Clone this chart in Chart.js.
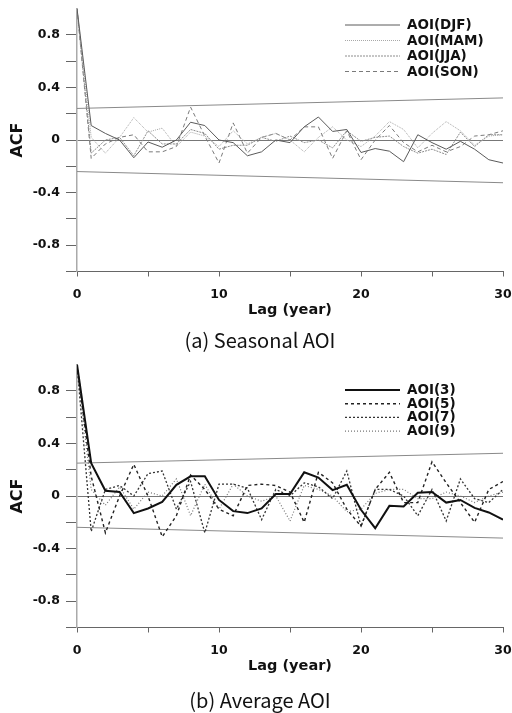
<!DOCTYPE html>
<html>
<head>
<meta charset="utf-8">
<script src="https://cdn.jsdelivr.net/npm/chart.js@4.4.1/dist/chart.umd.min.js"></script>
<style>
  body { margin: 0; background: #fff; width: 512px; height: 713px; overflow: hidden; position: relative; }
  .panel { position: absolute; left: 0; width: 512px; }
  .panel canvas { display: block; }
  .caption { position: absolute; left: 0; width: 520px; text-align: center; font-family: "Noto Sans CJK KR", "Noto Sans", sans-serif; font-size: 20px; line-height: 26px; color: #111; }
</style>
</head>
<body>
<div class="panel" style="top:0"><canvas id="chartA" width="512" height="330"></canvas></div>
<div class="caption" style="top:327px">(a) Seasonal AOI</div>
<div class="panel" style="top:356px"><canvas id="chartB" width="512" height="330"></canvas></div>
<div class="caption" style="top:687px">(b) Average AOI</div>

<script>
var lags = [0, 1, 2, 3, 4, 5, 6, 7, 8, 9, 10, 11, 12, 13, 14, 15, 16, 17, 18, 19, 20, 21, 22, 23, 24, 25, 26, 27, 28, 29, 30];
var xTickLabels = ["0", "10", "20", "30"];
var yTickLabels = ["-0.8", "-0.4", "0", "0.4", "0.8"];
var bandLags = [0, 30];

// seasonal AOI autocorrelation
var acfDJF = [1.0, 0.11, 0.05, 0.0, -0.135, -0.015, -0.055, 0.0, 0.135, 0.11, 0.0, -0.02, -0.12, -0.09, 0.0, -0.02, 0.1, 0.175, 0.065, 0.08, -0.095, -0.065, -0.085, -0.165, 0.04, -0.02, -0.07, -0.01, -0.07, -0.15, -0.175];
var acfMAM = [1.0, 0.02, -0.1, 0.02, 0.17, 0.06, 0.09, -0.05, 0.06, 0.03, -0.05, 0.07, -0.03, 0.02, 0.05, 0.0, -0.09, 0.02, 0.1, 0.0, -0.05, 0.03, 0.14, 0.08, -0.06, 0.05, 0.14, 0.07, -0.04, 0.03, 0.04];
var acfJJA = [1.0, -0.1, 0.0, 0.02, -0.12, 0.07, -0.03, -0.03, 0.08, 0.05, -0.07, -0.04, -0.04, 0.02, -0.01, 0.03, -0.02, 0.0, -0.06, 0.07, -0.01, 0.02, 0.03, -0.05, -0.1, -0.07, -0.11, 0.06, -0.05, 0.04, 0.04];
var acfSON = [1.0, -0.14, -0.03, 0.02, 0.04, -0.09, -0.09, -0.05, 0.25, 0.03, -0.175, 0.13, -0.1, 0.02, 0.05, 0.0, 0.1, 0.1, -0.14, 0.07, -0.15, 0.0, 0.11, -0.02, -0.09, -0.04, -0.09, -0.05, 0.03, 0.04, 0.07];
var upperA = [0.24, 0.32];
var lowerA = [-0.24, -0.325];

// running-mean AOI autocorrelation
var acf3 = [1.0, 0.25, 0.04, 0.03, -0.13, -0.095, -0.045, 0.085, 0.15, 0.15, -0.03, -0.115, -0.13, -0.095, 0.015, 0.015, 0.18, 0.14, 0.045, 0.085, -0.105, -0.245, -0.075, -0.08, 0.025, 0.03, -0.05, -0.03, -0.09, -0.125, -0.18];
var acf5 = [1.0, 0.15, -0.28, 0.0, 0.24, 0.0, -0.31, -0.15, 0.16, 0.05, -0.1, -0.15, 0.08, 0.09, 0.08, 0.03, -0.2, 0.18, 0.1, -0.1, -0.23, 0.05, 0.18, -0.05, -0.05, 0.26, 0.1, -0.05, -0.2, 0.05, 0.11];
var acf7 = [1.0, -0.27, 0.05, 0.08, 0.0, 0.17, 0.19, -0.1, 0.11, -0.28, 0.09, 0.09, 0.06, -0.18, 0.05, 0.0, 0.1, 0.07, -0.02, 0.19, -0.23, 0.05, 0.05, 0.0, -0.15, 0.05, -0.19, 0.13, -0.02, -0.05, 0.05];
var acf9 = [1.0, 0.05, -0.07, 0.07, -0.1, 0.03, 0.0, 0.13, -0.15, 0.09, -0.1, 0.09, 0.0, -0.04, 0.0, -0.19, 0.08, 0.05, 0.0, -0.12, -0.1, 0.02, 0.05, 0.05, -0.02, -0.02, 0.03, 0.0, -0.05, 0.0, 0.03];
var upperB = [0.25, 0.325];
var lowerB = [-0.238, -0.32];

var tickFont = { family: "DejaVu Sans", weight: "bold", size: 12.5 };

function pts(xs, ys) {
  return xs.map(function (x, i) {
    return { x: x, y: ys[i] };
  });
}

function series(label, ys, color, width, dash) {
  return {
    label: label,
    data: pts(lags, ys),
    borderColor: color,
    borderWidth: width,
    borderDash: dash,
    pointRadius: 0,
    tension: 0,
    fill: false,
  };
}

function band(ys) {
  return {
    label: "",
    data: pts(bandLags, ys),
    borderColor: "#8a8a8a",
    borderWidth: 1,
    pointRadius: 0,
    fill: false,
  };
}

// line key in the upper right corner
var lineKey = {
  id: "lineKey",
  afterDraw: function (chart, args, opts) {
    var ctx = chart.ctx;
    ctx.save();
    ctx.font = "bold 13.5px 'DejaVu Sans'";
    ctx.textBaseline = "middle";
    var row = 0;
    chart.data.datasets.forEach(function (ds) {
      if (!ds.label) return;
      var y = opts.top + row * opts.gap;
      ctx.strokeStyle = ds.borderColor;
      ctx.lineWidth = ds.borderWidth;
      ctx.setLineDash(ds.borderDash || []);
      ctx.beginPath();
      ctx.moveTo(opts.x, y);
      ctx.lineTo(opts.x + 55, y);
      ctx.stroke();
      ctx.setLineDash([]);
      ctx.fillStyle = "#111";
      ctx.fillText(ds.label, opts.x + 62, y + 0.5);
      row++;
    });
    ctx.restore();
  },
};

function makeOptions(key) {
  return {
    responsive: false,
    animation: false,
    layout: { padding: { top: 8.5, right: 9, left: 0, bottom: 0 } },
    plugins: {
      legend: { display: false },
      tooltip: { enabled: false },
      lineKey: key,
    },
    scales: {
      x: {
        type: "linear",
        min: 0,
        max: 30,
        ticks: {
          stepSize: 5,
          padding: 11,
          color: "#111",
          font: tickFont,
          maxRotation: 0,
          autoSkip: false,
          callback: function (v) {
            return xTickLabels.indexOf(String(v)) >= 0 ? String(v) : "";
          },
        },
        grid: { drawOnChartArea: false, tickLength: 5, tickColor: "#666" },
        border: { color: "#666", width: 1 },
        title: {
          display: true,
          text: "Lag (year)",
          color: "#111",
          font: { family: "DejaVu Sans", weight: "bold", size: 14.5 },
          padding: { top: 0, bottom: 11 },
        },
        afterFit: function (s) {
          s.height = 58.5;
          s.paddingLeft = 0;
          s.paddingRight = 0;
        },
      },
      y: {
        min: -1,
        max: 1,
        ticks: {
          stepSize: 0.2,
          padding: 6,
          color: "#111",
          font: tickFont,
          callback: function (v) {
            var t = String(Math.round(v * 10) / 10);
            return yTickLabels.indexOf(t) >= 0 ? t : "";
          },
        },
        grid: {
          tickLength: 11,
          color: function (c) {
            return c.tick && Math.abs(c.tick.value) < 1e-9 ? "#777" : "rgba(0,0,0,0)";
          },
          tickColor: function (c) {
            return c.tick && c.tick.value > 0.99 ? "rgba(0,0,0,0)" : "#666";
          },
        },
        border: { color: "#aaa", width: 1.5 },
        title: {
          display: true,
          text: "ACF",
          color: "#111",
          font: { family: "DejaVu Sans", weight: "bold", size: 16 },
          padding: { top: 8, bottom: 0 },
        },
        afterFit: function (s) {
          s.width = 77;
          s.paddingTop = 0;
          s.paddingBottom = 0;
        },
      },
    },
  };
}

new Chart(document.getElementById("chartA"), {
  type: "line",
  data: {
    datasets: [
      series("AOI(DJF)", acfDJF, "#5a5a5a", 1, []),
      series("AOI(MAM)", acfMAM, "#a8a8a8", 1, [1, 1]),
      series("AOI(JJA)", acfJJA, "#8c8c8c", 1, [2, 1]),
      series("AOI(SON)", acfSON, "#7a7a7a", 1, [4, 3]),
      band(upperA),
      band(lowerA),
    ],
  },
  options: makeOptions({ x: 345, top: 25, gap: 15.5 }),
  plugins: [lineKey],
});

new Chart(document.getElementById("chartB"), {
  type: "line",
  data: {
    datasets: [
      series("AOI(3)", acf3, "#111", 2, []),
      series("AOI(5)", acf5, "#222", 1.4, [3, 3]),
      series("AOI(7)", acf7, "#333", 1.3, [2, 2]),
      series("AOI(9)", acf9, "#777", 1.2, [1, 2]),
      band(upperB),
      band(lowerB),
    ],
  },
  options: makeOptions({ x: 345, top: 34, gap: 13.7 }),
  plugins: [lineKey],
});
</script>
</body>
</html>
